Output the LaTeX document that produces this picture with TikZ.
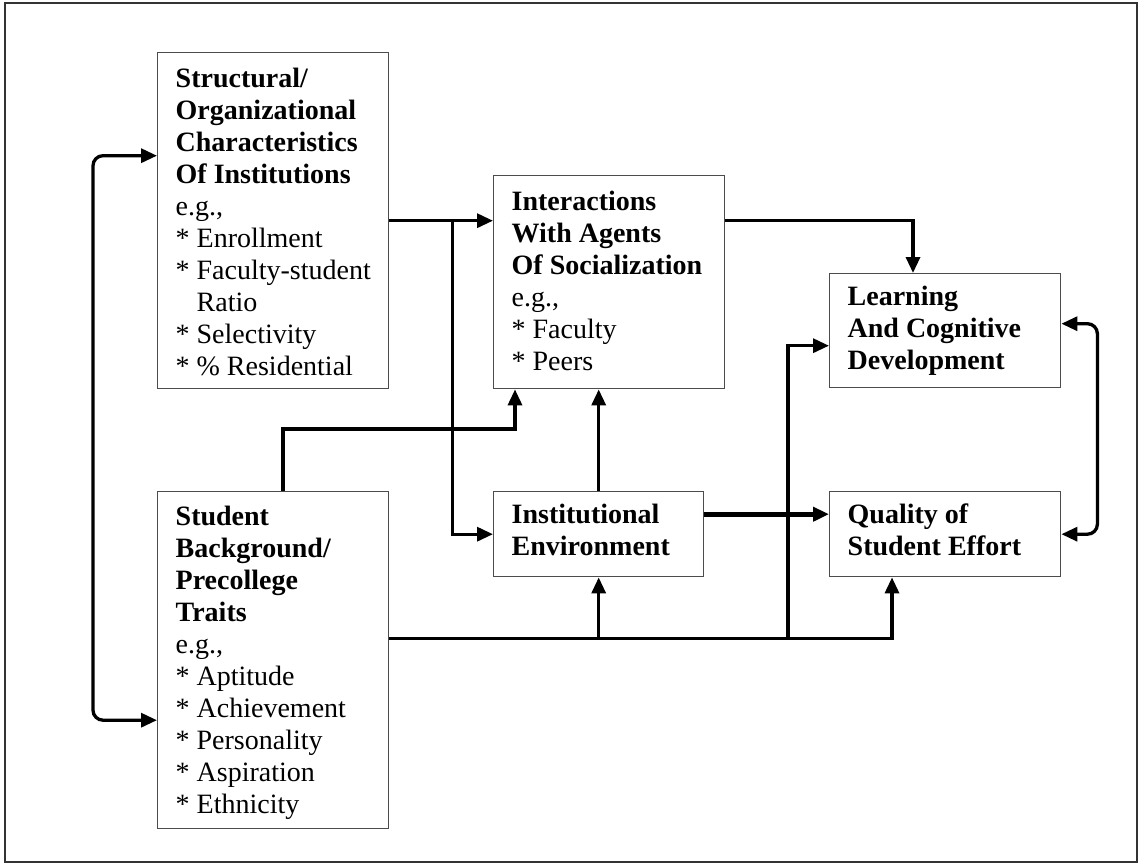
\documentclass[tikz,border=0pt]{standalone}
\usepackage{fontspec}
\setmainfont{Liberation Serif}
\usetikzlibrary{arrows.meta,calc}
\newcommand{\bxt}[4]{\parbox[t][#2][t]{#1}{\raggedright\leftskip=18pt\parindent=0pt\fontsize{28pt}{32pt}\selectfont\rule{0pt}{#3}#4}}
\begin{document}
\begin{tikzpicture}[x=1pt,y=-1pt,
  box/.style={draw=black!70, line width=1.4pt, inner sep=0pt, anchor=north west, fill=white},
  conn/.style={line width=3.3pt, -{Triangle[length=16pt,width=14pt]}},
  dbl/.style={line width=3.3pt, {Triangle[length=16pt,width=14pt]}-{Triangle[length=16pt,width=14pt]}, rounded corners=10pt}]
\useasboundingbox (0,0) rectangle (1141,864);
\draw[black!80, line width=1.5pt] (5,3) rectangle (1137,862);

\node[box] (S) at (157,52) {\bxt{231pt}{336pt}{35pt}{{\bfseries Structural/\\Organizational\\Characteristics\\Of Institutions}\\e.g.,\\{*} Enrollment\\{*} Faculty-student\\\hphantom{* }Ratio\\{*} Selectivity\\{*} \% Residential}};
\node[box] (I) at (493,175) {\bxt{231pt}{213pt}{35pt}{{\bfseries Interactions\\With Agents\\Of Socialization}\\e.g.,\\{*} Faculty\\{*} Peers}};
\node[box] (L) at (829,273) {\bxt{231pt}{114pt}{32pt}{{\bfseries Learning\\And Cognitive\\Development}}};
\node[box] (E) at (493,491) {\bxt{210pt}{85pt}{32pt}{{\bfseries Institutional\\Environment}}};
\node[box] (Q) at (829,491) {\bxt{231pt}{85pt}{32pt}{{\bfseries Quality of\\Student Effort}}};
\node[box] (B) at (157,491) {\bxt{231pt}{337pt}{34pt}{{\bfseries Student\\Background/\\Precollege\\Traits}\\e.g.,\\{*} Aptitude\\{*} Achievement\\{*} Personality\\{*} Aspiration\\{*} Ethnicity}};

% Structural -> Interactions, and branch to Institutional Environment
\draw[conn] (S.east) -- (S.east -| I.west);
\draw[conn] ($(S.east)+(63,0)$) |- (E.west);
% Interactions -> Learning
\coordinate (i1) at ($(L.north west)+(84,0)$);
\draw[conn] (S.east -| I.east) -| (i1);
% Student -> Interactions
\coordinate (b2) at ($(B.north west)+(126,0)$);
\coordinate (i2) at ($(I.south west)+(22,0)$);
\draw[conn] (b2) -- ++(0,-62) -| (i2);
% Environment -> Interactions
\draw[conn] (E.north) -- (E.north |- I.south);
% Environment -> Quality
\draw[conn, line width=5pt] ($(E.east)+(0,-20)$) -- ($(Q.west)+(0,-20)$);
% Student -> Quality, Environment, Learning
\coordinate (b0) at ($(B.east)+(0,-22)$);
\coordinate (q1) at ($(Q.south west)+(63,0)$);
\draw[conn] (b0) -| (q1);
\draw[conn] (b0 -| E.south) -- (E.south);
\coordinate (l1) at ($(L.west)+(0,15)$);
\coordinate (l0) at ($(L.west)+(-41,0)$);
\draw[conn] (b0 -| l0) |- (l1);
% brackets
\coordinate (s2) at ($(S.west)+(0,-65)$);
\coordinate (b1) at ($(B.west)+(0,60)$);
\draw[dbl] (s2) -- ++(-64,0) |- (b1);
\coordinate (l2) at ($(L.east)+(0,-7)$);
\draw[dbl] (l2) -- ++(36,0) |- (Q.east);
\end{tikzpicture}
\end{document}
